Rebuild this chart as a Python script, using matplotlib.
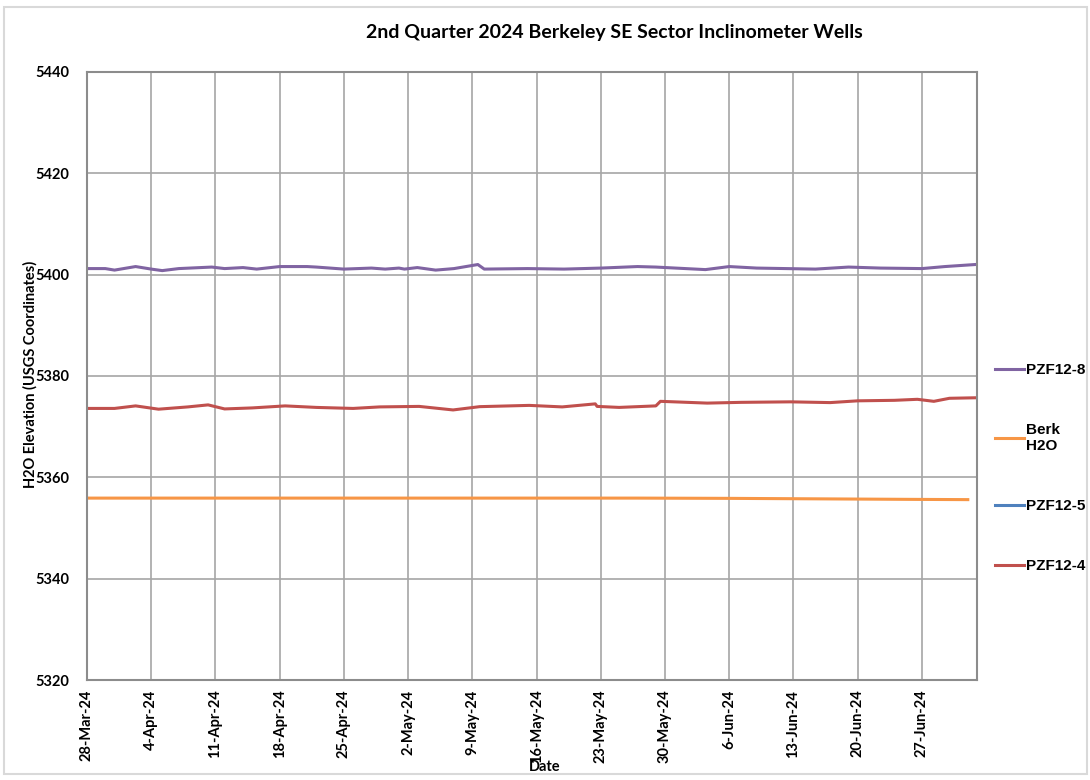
import pandas as pd
import matplotlib.pyplot as plt
import matplotlib.dates as mdates
from matplotlib.patches import Rectangle

# Readings (day offsets from 28-Mar-24) estimated from the chart
start = pd.Timestamp("2024-03-28")

pzf8_days = [0, 2, 3, 5.3, 7, 8.2, 10, 13.6, 15, 17, 18.5, 21, 24, 25, 28, 31, 32.5, 34,
             34.6, 36, 38, 40, 42.6, 43.3, 48, 52, 56, 60, 62, 67.4, 70, 73, 79.4, 83,
             86.5, 91, 93.5, 96.8]
pzf8_vals = [5401.2, 5401.2, 5400.9, 5401.6, 5401.1, 5400.8, 5401.2, 5401.5, 5401.2,
             5401.4, 5401.1, 5401.6, 5401.6, 5401.5, 5401.1, 5401.3, 5401.1, 5401.3,
             5401.1, 5401.4, 5400.9, 5401.2, 5402.0, 5401.1, 5401.2, 5401.1, 5401.3,
             5401.6, 5401.5, 5401.0, 5401.6, 5401.3, 5401.1, 5401.5, 5401.3, 5401.2,
             5401.6, 5402.0]

berk_days = [0, 20, 40, 60, 70, 80, 90, 96]
berk_vals = [5355.9, 5355.9, 5355.9, 5355.9, 5355.85, 5355.75, 5355.65, 5355.6]

pzf5_days = []
pzf5_vals = []

pzf4_days = [0, 3, 5.3, 7.8, 11, 13.2, 15, 18, 21.6, 25, 29, 31.9, 36.2, 39.9, 42.8,
             48.2, 51.8, 55.4, 55.6, 58, 62, 62.5, 64, 67.6, 71.3, 76.7, 81, 84, 88,
             90.5, 92.3, 94, 96.8]
pzf4_vals = [5373.6, 5373.6, 5374.1, 5373.45, 5373.9, 5374.3, 5373.5, 5373.7, 5374.1,
             5373.8, 5373.6, 5373.9, 5374.0, 5373.3, 5373.95, 5374.2, 5373.9, 5374.5,
             5374.0, 5373.8, 5374.1, 5375.0, 5374.9, 5374.65, 5374.8, 5374.9, 5374.75,
             5375.1, 5375.2, 5375.4, 5375.0, 5375.6, 5375.7]

series = [
    ("PZF12-8", pzf8_days, pzf8_vals, "#8064A2"),
    ("Berk\nH2O", berk_days, berk_vals, "#F79646"),
    ("PZF12-5", pzf5_days, pzf5_vals, "#4F81BD"),
    ("PZF12-4", pzf4_days, pzf4_vals, "#C0504D"),
]

fig = plt.figure(figsize=(10.9, 7.8), dpi=100)
ax = fig.add_axes([0.0798, 0.1282, 0.8165, 0.7795])

for label, days, vals, color in series:
    dates = start + pd.to_timedelta(days, unit="D")
    ax.plot(dates, vals, color=color, lw=2.2, label=label)

ax.set_ylim(5320, 5440)
ax.set_yticks(range(5320, 5441, 20))
ax.set_xlim(start, pd.Timestamp("2024-07-03"))
ax.set_xticks(pd.date_range("2024-03-28", "2024-06-27", freq="7D"))
ax.xaxis.set_major_formatter(mdates.DateFormatter("%-d-%b-%y"))
ax.grid(True, color="#a6a6a6", lw=1.2)
ax.set_axisbelow(True)
for s in ax.spines.values():
    s.set_color("#8c8c8c")
    s.set_linewidth(1.5)
ax.tick_params(length=0)
ax.tick_params(axis="y", pad=13)
ax.tick_params(axis="x", pad=7)
for t in ax.get_yticklabels() + ax.get_xticklabels():
    t.set_fontfamily("Lato")
    t.set_fontweight("bold")
    t.set_fontsize(10.5)
for t in ax.get_xticklabels():
    t.set_rotation(90)

fig.text(0.564, 0.958, "2nd Quarter 2024 Berkeley SE Sector Inclinometer Wells",
         ha="center", va="center", fontsize=14, fontweight="bold", family="Lato")
fig.text(0.028, 0.52, "H2O Elevation (USGS Coordinates)", rotation=90,
         ha="center", va="center", fontsize=10.5, fontweight="bold", family="Lato")
fig.text(0.5, 0.017, "Date", ha="center", va="center", fontsize=10.5,
         fontweight="bold", family="Lato")

fig.legend(loc="center left", bbox_to_anchor=(0.913, 0.4), frameon=False,
           borderpad=0, borderaxespad=0, labelspacing=3.0, handlelength=1.9,
           handletextpad=0.1,
           prop={"family": "Liberation Sans", "weight": "bold", "size": 11})

# light frame around the chart area
fig.patches.append(Rectangle((0.004, 0.008), 0.993, 0.983, transform=fig.transFigure,
                             fill=False, edgecolor="#d9d9d9", lw=1.5))

fig.savefig("out.png", dpi=100)
